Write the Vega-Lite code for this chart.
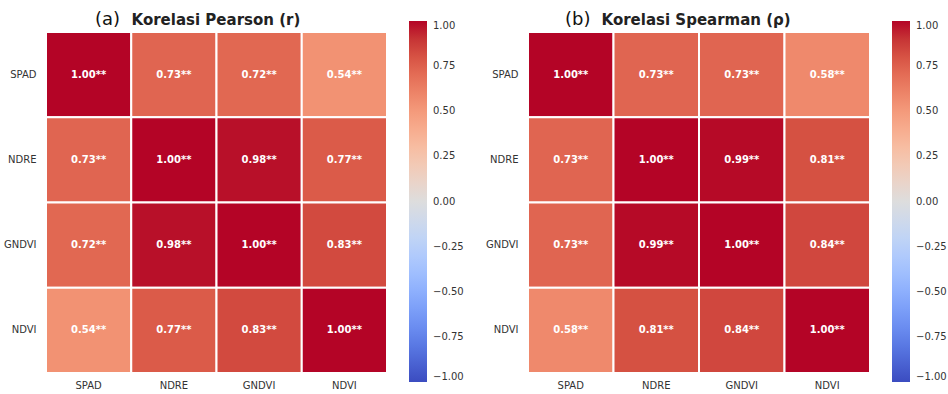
{
  "$schema": "https://vega.github.io/schema/vega-lite/v6.json",
  "padding": {"left": 3, "top": 11, "right": 0, "bottom": 0},
  "config": {"font": "DejaVu Sans", "view": {"stroke": null}, "concat": {"spacing": 21}},
  "datasets": {
    "pearson": [
      {"row": "SPAD", "col": "SPAD", "r": 1.00, "label": "1.00**"},
      {"row": "SPAD", "col": "NDRE", "r": 0.73, "label": "0.73**"},
      {"row": "SPAD", "col": "GNDVI", "r": 0.72, "label": "0.72**"},
      {"row": "SPAD", "col": "NDVI", "r": 0.54, "label": "0.54**"},
      {"row": "NDRE", "col": "SPAD", "r": 0.73, "label": "0.73**"},
      {"row": "NDRE", "col": "NDRE", "r": 1.00, "label": "1.00**"},
      {"row": "NDRE", "col": "GNDVI", "r": 0.98, "label": "0.98**"},
      {"row": "NDRE", "col": "NDVI", "r": 0.77, "label": "0.77**"},
      {"row": "GNDVI", "col": "SPAD", "r": 0.72, "label": "0.72**"},
      {"row": "GNDVI", "col": "NDRE", "r": 0.98, "label": "0.98**"},
      {"row": "GNDVI", "col": "GNDVI", "r": 1.00, "label": "1.00**"},
      {"row": "GNDVI", "col": "NDVI", "r": 0.83, "label": "0.83**"},
      {"row": "NDVI", "col": "SPAD", "r": 0.54, "label": "0.54**"},
      {"row": "NDVI", "col": "NDRE", "r": 0.77, "label": "0.77**"},
      {"row": "NDVI", "col": "GNDVI", "r": 0.83, "label": "0.83**"},
      {"row": "NDVI", "col": "NDVI", "r": 1.00, "label": "1.00**"}
    ],
    "spearman": [
      {"row": "SPAD", "col": "SPAD", "r": 1.00, "label": "1.00**"},
      {"row": "SPAD", "col": "NDRE", "r": 0.73, "label": "0.73**"},
      {"row": "SPAD", "col": "GNDVI", "r": 0.73, "label": "0.73**"},
      {"row": "SPAD", "col": "NDVI", "r": 0.58, "label": "0.58**"},
      {"row": "NDRE", "col": "SPAD", "r": 0.73, "label": "0.73**"},
      {"row": "NDRE", "col": "NDRE", "r": 1.00, "label": "1.00**"},
      {"row": "NDRE", "col": "GNDVI", "r": 0.99, "label": "0.99**"},
      {"row": "NDRE", "col": "NDVI", "r": 0.81, "label": "0.81**"},
      {"row": "GNDVI", "col": "SPAD", "r": 0.73, "label": "0.73**"},
      {"row": "GNDVI", "col": "NDRE", "r": 0.99, "label": "0.99**"},
      {"row": "GNDVI", "col": "GNDVI", "r": 1.00, "label": "1.00**"},
      {"row": "GNDVI", "col": "NDVI", "r": 0.84, "label": "0.84**"},
      {"row": "NDVI", "col": "SPAD", "r": 0.58, "label": "0.58**"},
      {"row": "NDVI", "col": "NDRE", "r": 0.81, "label": "0.81**"},
      {"row": "NDVI", "col": "GNDVI", "r": 0.84, "label": "0.84**"},
      {"row": "NDVI", "col": "NDVI", "r": 1.00, "label": "1.00**"}
    ]
  },
  "resolve": {"scale": {"color": "independent"}, "legend": {"color": "independent"}},
  "hconcat": [
    {
      "width": 341, "height": 341,
      "data": {"name": "pearson"},
      "title": {"text": "(a)", "subtitle": "\u200b\u00a0\u00a0\u00a0\u00a0\u00a0\u00a0\u00a0Korelasi Pearson (r)", "anchor": "start", "frame": "group", "dx": 49, "fontSize": 18, "fontWeight": "normal", "color": "#111", "subtitleFontSize": 15, "subtitleFontWeight": "bold", "subtitleColor": "#222", "subtitlePadding": -16, "offset": -8},
      "encoding": {
        "x": {"field": "col", "type": "nominal", "sort": ["SPAD", "NDRE", "GNDVI", "NDVI"], "scale": {"paddingInner": 0, "paddingOuter": 0}, "axis": {"orient": "bottom", "labelAngle": 0, "ticks": false, "domain": false, "labelPadding": 7, "labelFontSize": 10, "labelColor": "#333", "title": null}},
        "y": {"field": "row", "type": "nominal", "sort": ["SPAD", "NDRE", "GNDVI", "NDVI"], "scale": {"paddingInner": 0, "paddingOuter": 0}, "axis": {"ticks": false, "domain": false, "labelPadding": 10, "labelFontSize": 10, "labelColor": "#333", "title": null}}
      },
      "layer": [
        {"mark": {"type": "rect", "stroke": "white", "strokeWidth": 2},
         "encoding": {"color": {"field": "r", "type": "quantitative",
           "scale": {"type": "linear", "interpolate": "rgb",
             "domain": [-1, -0.9375, -0.8125, -0.75, -0.6875, -0.5625, -0.4375, -0.3125, -0.25, -0.1875, -0.0625, 0, 0.0625, 0.1875, 0.25, 0.3125, 0.4375, 0.5625, 0.6875, 0.75, 0.8125, 0.9375, 1],
             "range": ["#3b4cc0", "#445acc", "#5775e1", "#6282ea", "#6c8ff1", "#82a5fb", "#98b9ff", "#aec9fd", "#b8d0f9", "#c2d5f4", "#d5dbe6", "#dddddd", "#e5d8d1", "#f1ccb8", "#f5c4ac", "#f7bb9f", "#f7a686", "#f18d6f", "#e57058", "#de604d", "#d55042", "#c0282f", "#b40426"]},
           "legend": {"orient": "none", "legendX": 363, "legendY": -11, "direction": "vertical", "gradientLength": 361, "gradientThickness": 18, "values": [-1, -0.75, -0.5, -0.25, 0, 0.25, 0.5, 0.75, 1], "format": ".2f", "labelOffset": 6, "labelFontSize": 10, "labelColor": "#333", "labelBaseline": "middle", "title": null, "padding": 0, "labelOverlap": false, "gradientStrokeWidth": 0}}}},
        {"mark": {"type": "text", "color": "white", "fontWeight": "bold", "fontSize": 10},
         "encoding": {"text": {"field": "label", "type": "nominal"}}}
      ]
    },
    {
      "width": 342, "height": 341,
      "data": {"name": "spearman"},
      "title": {"text": "(b)", "subtitle": "\u200b\u00a0\u00a0\u00a0\u00a0\u00a0\u00a0\u00a0Korelasi Spearman (\u03c1)", "anchor": "start", "frame": "group", "dx": 37, "fontSize": 18, "fontWeight": "normal", "color": "#111", "subtitleFontSize": 15, "subtitleFontWeight": "bold", "subtitleColor": "#222", "subtitlePadding": -16, "offset": -8},
      "encoding": {
        "x": {"field": "col", "type": "nominal", "sort": ["SPAD", "NDRE", "GNDVI", "NDVI"], "scale": {"paddingInner": 0, "paddingOuter": 0}, "axis": {"orient": "bottom", "labelAngle": 0, "ticks": false, "domain": false, "labelPadding": 7, "labelFontSize": 10, "labelColor": "#333", "title": null}},
        "y": {"field": "row", "type": "nominal", "sort": ["SPAD", "NDRE", "GNDVI", "NDVI"], "scale": {"paddingInner": 0, "paddingOuter": 0}, "axis": {"ticks": false, "domain": false, "labelPadding": 10, "labelFontSize": 10, "labelColor": "#333", "title": null}}
      },
      "layer": [
        {"mark": {"type": "rect", "stroke": "white", "strokeWidth": 2},
         "encoding": {"color": {"field": "r", "type": "quantitative",
           "scale": {"type": "linear", "interpolate": "rgb",
             "domain": [-1, -0.9375, -0.8125, -0.75, -0.6875, -0.5625, -0.4375, -0.3125, -0.25, -0.1875, -0.0625, 0, 0.0625, 0.1875, 0.25, 0.3125, 0.4375, 0.5625, 0.6875, 0.75, 0.8125, 0.9375, 1],
             "range": ["#3b4cc0", "#445acc", "#5775e1", "#6282ea", "#6c8ff1", "#82a5fb", "#98b9ff", "#aec9fd", "#b8d0f9", "#c2d5f4", "#d5dbe6", "#dddddd", "#e5d8d1", "#f1ccb8", "#f5c4ac", "#f7bb9f", "#f7a686", "#f18d6f", "#e57058", "#de604d", "#d55042", "#c0282f", "#b40426"]},
           "legend": {"orient": "none", "legendX": 364, "legendY": -11, "direction": "vertical", "gradientLength": 361, "gradientThickness": 18, "values": [-1, -0.75, -0.5, -0.25, 0, 0.25, 0.5, 0.75, 1], "format": ".2f", "labelOffset": 6, "labelFontSize": 10, "labelColor": "#333", "labelBaseline": "middle", "title": null, "padding": 0, "labelOverlap": false, "gradientStrokeWidth": 0}}}},
        {"mark": {"type": "text", "color": "white", "fontWeight": "bold", "fontSize": 10},
         "encoding": {"text": {"field": "label", "type": "nominal"}}}
      ]
    }
  ]
}
